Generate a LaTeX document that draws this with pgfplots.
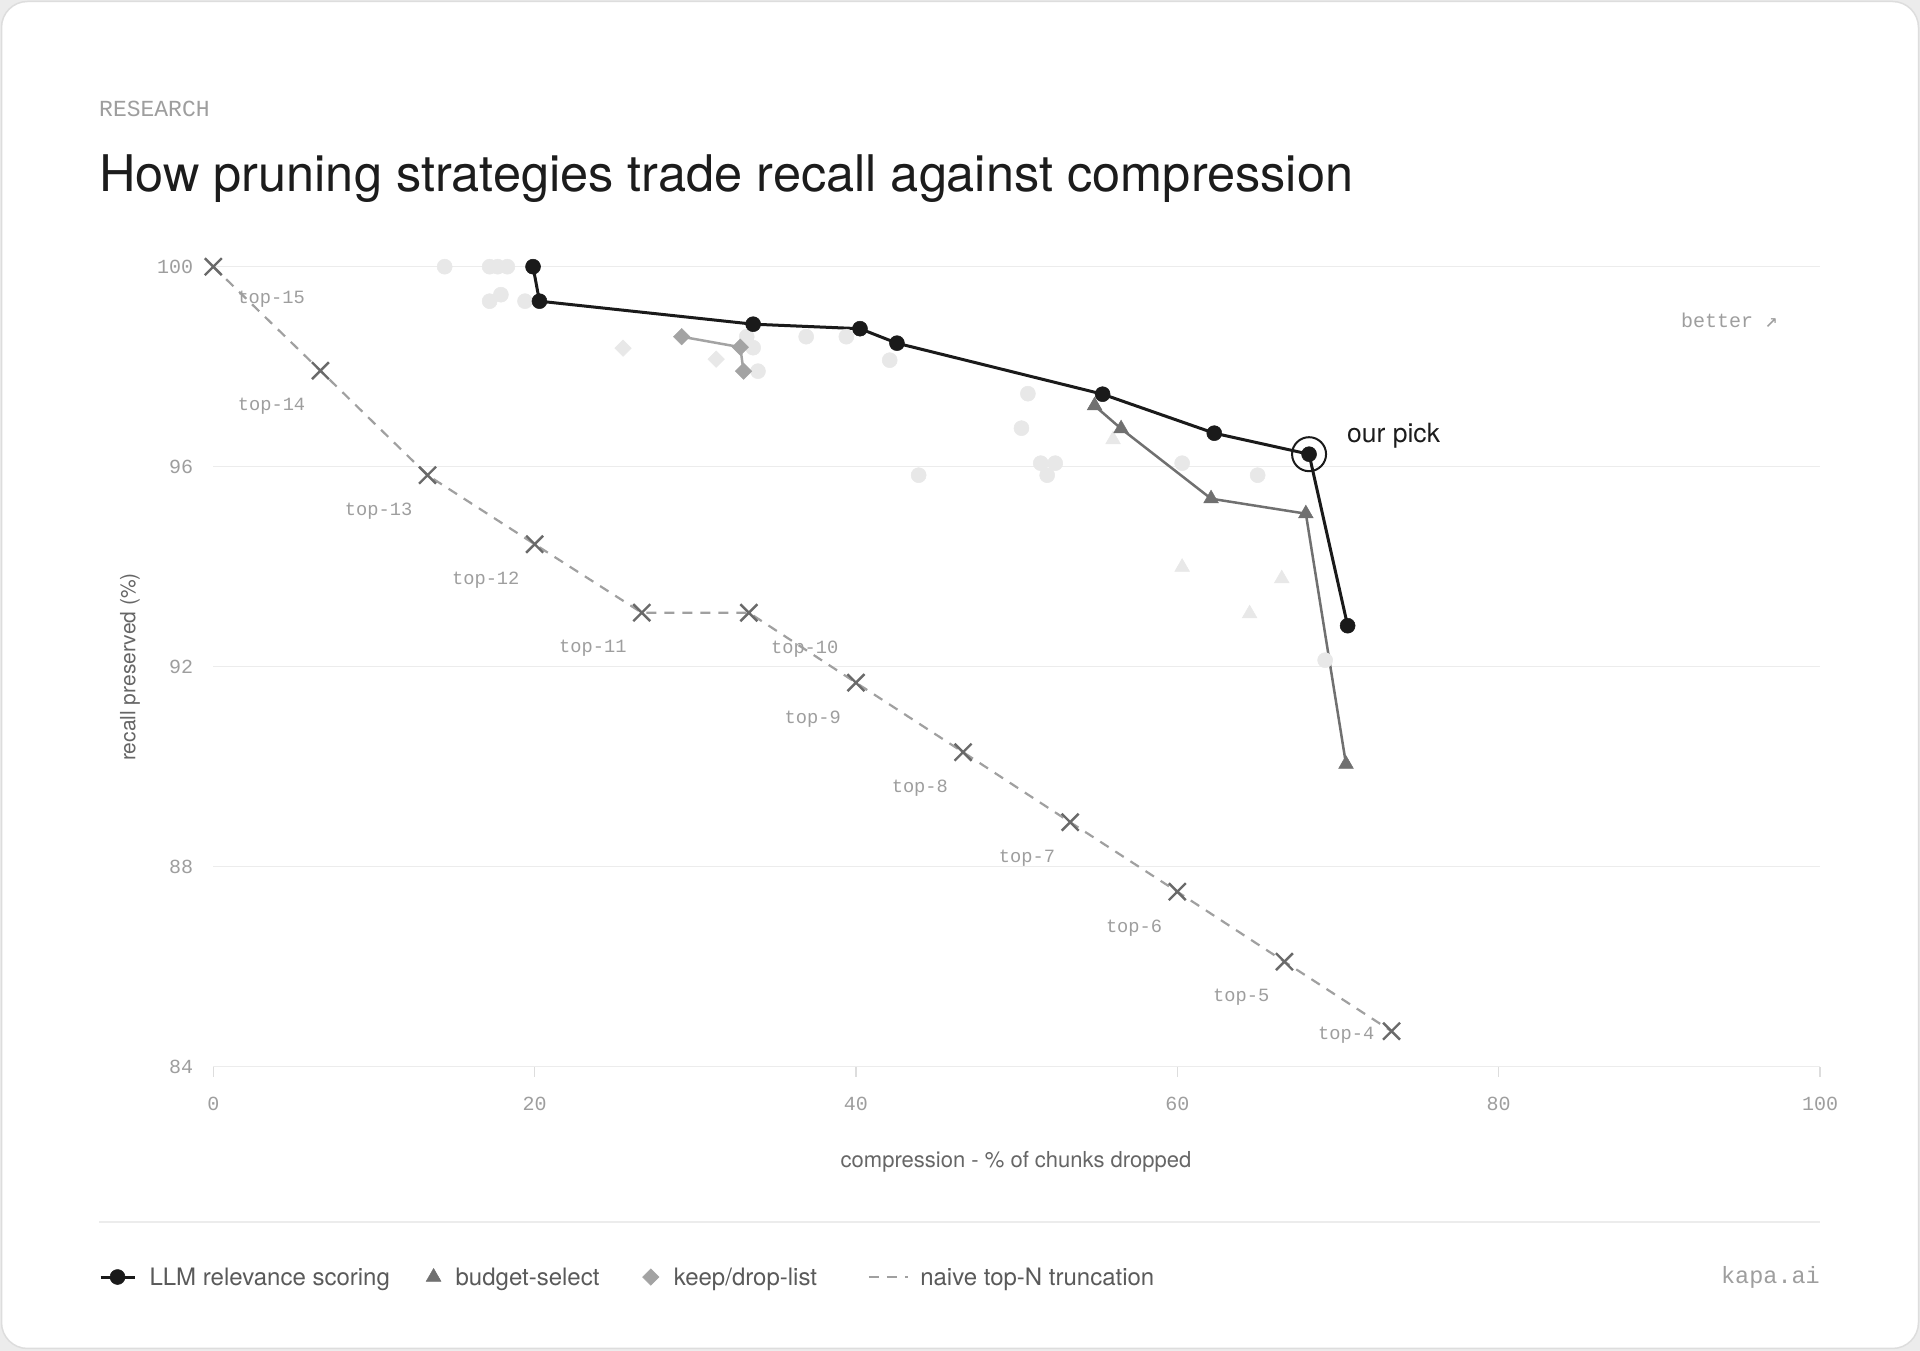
\documentclass[border=0pt]{standalone}
\usepackage{fontspec}
\setmainfont{TeX Gyre Heros}
\newfontfamily\mono{Liberation Mono}
\newfontfamily\djmono{DejaVu Sans Mono}
\usepackage{pgfplots}
\pgfplotsset{compat=1.18}
\definecolor{outer}{HTML}{ECECEC}
\definecolor{cardline}{HTML}{DDDDDD}
\definecolor{gridc}{HTML}{ECECEC}
\definecolor{tickc}{HTML}{9E9E9E}
\definecolor{labc}{HTML}{666666}
\definecolor{titlec}{HTML}{1C1C1C}
\definecolor{legc}{HTML}{5A5A5A}
\definecolor{llm}{HTML}{1A1A1A}
\definecolor{budget}{HTML}{707070}
\definecolor{keep}{HTML}{A3A3A3}
\definecolor{naive}{HTML}{A0A0A0}
\definecolor{naivemark}{HTML}{6A6A6A}
\definecolor{faint}{HTML}{E8E8E8}
\pgfplotsset{
  leglinemark/.style={legend image code/.code={\draw[mark repeat=2, mark phase=2, ##1] plot coordinates {(0pt,0pt) (17pt,0pt) (34pt,0pt)}; \path (0pt,0pt) (47.5pt,0pt);}},
  legtri/.style={legend image code/.code={\draw[##1, only marks] plot coordinates {(0pt,0pt)}; \path (-8pt,0pt) (20.8pt,0pt);}},
  legdia/.style={legend image code/.code={\draw[##1, only marks] plot coordinates {(0pt,0pt)}; \path (-8pt,0pt) (21.7pt,0pt);}},
  legdash/.style={legend image code/.code={\draw[##1] (0pt,0pt) -- (39pt,0pt); \path (0pt,0pt) (50.3pt,0pt);}},
  llmstyle/.style={llm, line width=3pt, mark=*, mark size=7.5pt, mark options={fill=llm, draw=llm, line width=0.5pt}},
  budgetstyle/.style={budget, line width=2.5pt, mark=triangle*, mark size=8.5pt, mark options={fill=budget, draw=budget, line width=0.5pt}},
  keepstyle/.style={keep, line width=2.5pt, mark=square*, mark size=5.8pt, mark options={rotate=45, fill=keep, draw=keep, line width=0.5pt}},
  naivestyle/.style={naive, line width=2.2pt, dash pattern=on 10pt off 8pt, mark=x, mark size=12pt, mark options={solid, draw=naivemark, line width=2.4pt}},
}
\begin{document}
\begin{tikzpicture}[x=1pt,y=1pt]
\path[use as bounding box, fill=outer] (0,0) rectangle (1920,1351);
\filldraw[fill=white, draw=cardline, line width=1.5pt, rounded corners=26pt] (1.5,2.5) rectangle (1918.5,1349.5);
% header
\node[anchor=base west, inner sep=0pt, text=tickc, font=\mono\fontsize{23}{23}\selectfont] at (99,1234) {RESEARCH};
\node[anchor=base west, inner sep=0pt, text=titlec, font=\fontsize{50.5}{50.5}\selectfont] at (99,1159) {How pruning strategies trade recall against compression};
\begin{axis}[
  at={(213.3pt,284.3pt)}, anchor=south west,
  width=1606.7pt, height=800pt, scale only axis,
  xmin=0, xmax=100, ymin=84, ymax=100,
  xtick={0,20,40,60,80,100}, ytick={84,88,92,96,100},
  axis x line*=bottom, axis y line*=left,
  x axis line style={draw=gridc, line width=1.5pt},
  y axis line style={draw=none},
  ymajorgrids, grid style={draw=gridc, line width=1.5pt},
  tick align=outside, major tick length=10pt,
  xtick style={draw=cardline, line width=1.5pt},
  ytick style={draw=none},
  /pgf/number format/assume math mode=true,
  ticklabel style={font=\mono\fontsize{20}{20}\selectfont, text=tickc, inner sep=0pt},
  yticklabel style={anchor=east, xshift=-10pt},
  xticklabel style={anchor=base, yshift=-33.5pt},
  clip=false,
  legend style={at={(axis description cs:-0.0711,-0.2629)}, anchor=west, draw=none, fill=none,
    inner sep=0pt, outer sep=0pt, legend columns=-1,
    nodes={inner sep=0pt, text=legc, font=\fontsize{24}{24}\selectfont},
    /tikz/column sep=0pt},
  legend cell align=left,
]
% legend images (in legend order)
\addlegendimage{llmstyle, leglinemark}
\addlegendimage{budgetstyle, legtri}
\addlegendimage{keepstyle, legdia}
\addlegendimage{naivestyle, legdash}
% faint background candidates
\addplot[forget plot, only marks, mark=*, mark size=7.5pt, mark options={fill=faint, draw=faint, line width=0.5pt}] coordinates {
 (14.4,100) (17.2,100) (17.7,100) (18.3,100) (17.2,99.31) (17.9,99.44) (19.4,99.31)
 (33.2,98.6) (33.6,98.38) (33.9,97.91) (36.9,98.6) (39.4,98.6) (42.1,98.13)
 (43.9,95.83) (50.7,97.46) (50.3,96.77) (51.5,96.07) (52.4,96.07) (51.9,95.83)
 (60.3,96.07) (65.0,95.83) (69.2,92.13)};
\addplot[forget plot, only marks, mark=triangle*, mark size=8.5pt, mark options={fill=faint, draw=faint, line width=0.5pt}] coordinates {
 (56.0,96.54) (60.3,93.99) (66.5,93.76) (64.5,93.06)};
\addplot[forget plot, only marks, mark=square*, mark size=5.8pt, mark options={rotate=45, fill=faint, draw=faint, line width=0.5pt}] coordinates {
 (25.5,98.37) (31.3,98.15)};
% naive top-N
\addplot[forget plot, naivestyle] coordinates {
 (0,100) (6.667,97.92) (13.333,95.83) (20,94.45) (26.667,93.08) (33.333,93.08)
 (40,91.68) (46.667,90.29) (53.333,88.89) (60,87.5) (66.667,86.1) (73.333,84.71)};
% keep/drop-list
\addplot[forget plot, keepstyle] coordinates {
 (29.15,98.6) (32.8,98.39) (33.0,97.91)};
% budget-select
\addplot[forget plot, budgetstyle] coordinates {
 (54.85,97.22) (56.5,96.76) (62.1,95.36) (68.0,95.06) (70.5,90.05)};
% LLM relevance scoring
\addplot[forget plot, llmstyle] coordinates {
 (19.9,100) (20.3,99.31) (33.6,98.85) (40.25,98.76) (42.55,98.47) (55.35,97.45) (62.3,96.67) (68.2,96.25) (70.6,92.82)};
% our pick ring
\addplot[forget plot, only marks, mark=o, mark size=17pt, mark options={draw=llm, line width=2pt}] coordinates {(68.2,96.25)};
\legend{\makebox[274.8pt][l]{LLM relevance scoring}, \makebox[185.9pt][l]{budget-select}, \makebox[194pt][l]{keep/drop-list}, naive top-N truncation}
% naive labels
\begin{scope}[every node/.style={inner sep=0pt, text=tickc, font=\mono\fontsize{18.7}{18.7}\selectfont}]
\node[anchor=west, xshift=24pt, yshift=-33pt] at (axis cs:0,100) {top-15};
\node[anchor=east, xshift=-15pt, yshift=-36pt] at (axis cs:6.667,97.92) {top-14};
\node[anchor=east, xshift=-15pt, yshift=-36pt] at (axis cs:13.333,95.83) {top-13};
\node[anchor=east, xshift=-15pt, yshift=-36pt] at (axis cs:20,94.45) {top-12};
\node[anchor=east, xshift=-15pt, yshift=-36pt] at (axis cs:26.667,93.08) {top-11};
\node[anchor=west, xshift=22pt, yshift=-36pt] at (axis cs:33.333,93.08) {top-10};
\node[anchor=east, xshift=-15pt, yshift=-36pt] at (axis cs:40,91.68) {top-9};
\node[anchor=east, xshift=-15pt, yshift=-36pt] at (axis cs:46.667,90.29) {top-8};
\node[anchor=east, xshift=-15pt, yshift=-36pt] at (axis cs:53.333,88.89) {top-7};
\node[anchor=east, xshift=-15pt, yshift=-36pt] at (axis cs:60,87.5) {top-6};
\node[anchor=east, xshift=-15pt, yshift=-36pt] at (axis cs:66.667,86.1) {top-5};
\node[anchor=east, xshift=-17pt, yshift=-4pt] at (axis cs:73.333,84.71) {top-4};
\end{scope}
\end{axis}
% annotations and labels
\node[anchor=west, inner sep=0pt, text=titlec, font=\fontsize{26.5}{26.5}\selectfont] at (1347,915) {our pick};
\node[anchor=east, inner sep=0pt, text=tickc, font=\mono\fontsize{20}{20}\selectfont] at (1778,1031) {better {\djmono\fontsize{21}{21}\selectfont ↗}};
\node[anchor=center, inner sep=0pt, text=labc, font=\fontsize{22}{22}\selectfont] at (1016,189) {compression - \% of chunks dropped};
\node[anchor=center, inner sep=0pt, rotate=90, text=labc, font=\fontsize{21}{21}\selectfont] at (130,684) {recall preserved (\%)};
\draw[draw=gridc, line width=1.5pt] (99,129) -- (1820,129);
\node[anchor=east, inner sep=0pt, text=tickc, font=\mono\fontsize{23.5}{23.5}\selectfont] at (1820,74) {kapa.ai};
\end{tikzpicture}
\end{document}
